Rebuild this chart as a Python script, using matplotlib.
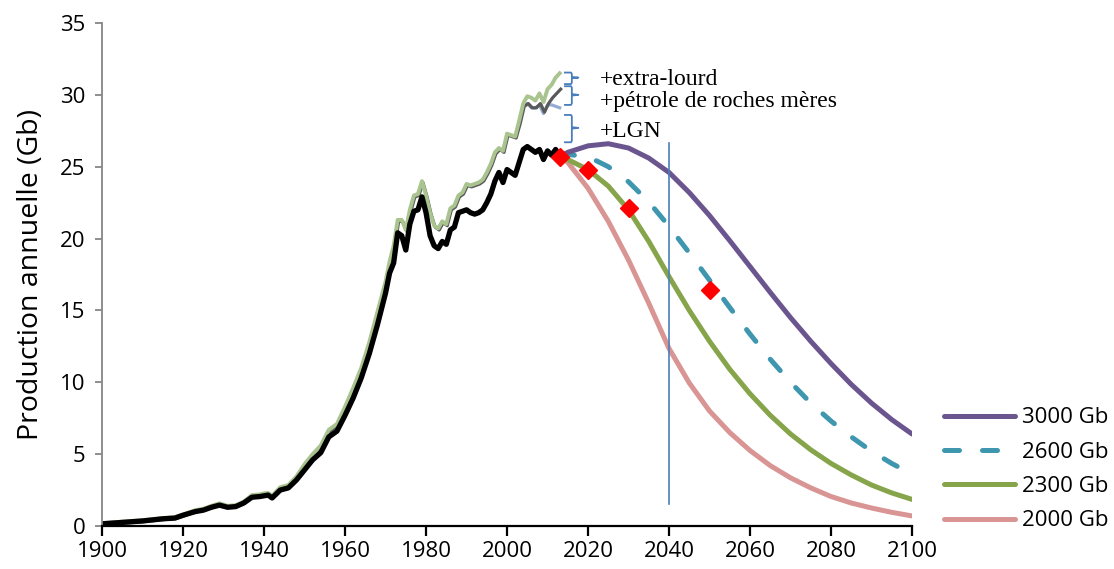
import numpy as np
import matplotlib
matplotlib.use("Agg")
import matplotlib.pyplot as plt
import matplotlib.transforms as mtransforms

# ---------------------------------------------------------------------
# Historique : production de brut (noir) et liquides totaux (vert clair)
hist_years = [1900, 1905, 1910, 1915, 1918, 1920, 1923, 1925, 1927, 1929,
              1931, 1933, 1935, 1937, 1939, 1940, 1941, 1942, 1944, 1946,
              1948, 1950, 1952, 1954, 1956, 1958, 1960, 1962, 1964, 1966,
              1968, 1970, 1971, 1972, 1973, 1974, 1975, 1976, 1977, 1978,
              1979, 1980, 1981, 1982, 1983, 1984, 1985, 1986, 1987, 1988,
              1989, 1990, 1991, 1992, 1993, 1994, 1995, 1996, 1997, 1998,
              1999, 2000, 2001, 2002, 2003, 2004, 2005, 2006, 2007, 2008,
              2009, 2010, 2011, 2012, 2013]
crude = [0.15, 0.25, 0.35, 0.5, 0.55, 0.75, 1.0, 1.1, 1.3, 1.45,
         1.3, 1.35, 1.6, 2.0, 2.05, 2.1, 2.15, 1.95, 2.5, 2.65,
         3.2, 3.9, 4.6, 5.1, 6.2, 6.6, 7.7, 8.9, 10.3, 12.0,
         14.0, 16.2, 17.6, 18.3, 20.4, 20.2, 19.2, 21.0, 21.9, 22.0,
         22.9, 21.8, 20.2, 19.5, 19.3, 19.8, 19.6, 20.6, 20.8, 21.8,
         21.9, 22.0, 21.8, 21.7, 21.8, 22.0, 22.5, 23.1, 24.0, 24.6,
         23.9, 24.8, 24.6, 24.4, 25.3, 26.2, 26.4, 26.2, 26.0, 26.2,
         25.5, 26.1, 25.8, 26.2, 25.7]
total = [0.2, 0.3, 0.4, 0.55, 0.62, 0.8, 1.1, 1.2, 1.4, 1.58,
         1.4, 1.45, 1.7, 2.15, 2.2, 2.27, 2.3, 2.1, 2.7, 2.85,
         3.45, 4.3, 5.0, 5.6, 6.7, 7.1, 8.3, 9.6, 11.0, 12.8,
         14.9, 17.0, 18.4, 19.5, 21.3, 21.3, 20.6, 22.0, 23.0, 23.1,
         24.0, 23.0, 21.8, 20.9, 20.7, 21.2, 21.0, 22.1, 22.3, 23.0,
         23.2, 23.8, 23.7, 23.8, 23.9, 24.1, 24.6, 25.2, 26.0, 26.3,
         26.1, 27.3, 27.2, 27.1, 28.2, 29.4, 29.9, 29.8, 29.6, 30.1,
         29.5, 30.4, 30.7, 31.2, 31.5]

# fin de série : brut + LGN (bleu clair) et + roches mères (gris)
tail_years = [2003, 2004, 2005, 2006, 2007, 2008, 2009, 2010, 2011, 2012, 2013]
with_ngl   = [28.1, 29.2, 29.4, 29.1, 29.1, 29.3, 28.7, 29.3, 29.3, 29.2, 29.1]
with_tight = [28.1, 29.3, 29.5, 29.2, 29.2, 29.5, 28.9, 29.5, 29.9, 30.2, 30.5]

# ---------------------------------------------------------------------
# Scénarios (URR)
fc_years = [2013, 2015, 2020, 2025, 2030, 2035, 2040, 2045, 2050, 2055,
            2060, 2065, 2070, 2075, 2080, 2085, 2090, 2095, 2100]
urr_3000 = [25.7, 26.0, 26.45, 26.6, 26.3, 25.6, 24.6, 23.2, 21.6, 19.85,
            18.05, 16.25, 14.5, 12.85, 11.3, 9.85, 8.55, 7.4, 6.4]
urr_2600 = [25.7, 25.85, 25.7, 25.0, 23.95, 22.55, 20.85, 19.0, 17.1, 15.2,
            13.35, 11.6, 10.0, 8.55, 7.3, 6.2, 5.2, 4.35, 3.6]
urr_2300 = [25.7, 25.5, 24.8, 23.65, 22.0, 19.8, 17.35, 15.0, 12.85, 10.9,
            9.2, 7.7, 6.4, 5.3, 4.35, 3.55, 2.85, 2.3, 1.85]
urr_2000 = [25.7, 25.3, 23.5, 21.2, 18.5, 15.5, 12.35, 9.95, 8.0, 6.5,
            5.25, 4.2, 3.35, 2.65, 2.05, 1.6, 1.25, 0.95, 0.7]

# points rouges
pt_years = [2013, 2020, 2030, 2050]
pt_values = [25.7, 24.8, 22.1, 16.4]

YEAR_MARK = 2040

BLUE = "#4a7ebb"
SANS = ["Open Sans", "DejaVu Sans"]
SERIF = ["Liberation Serif", "DejaVu Serif"]


def main() -> None:
    plt.rcParams["font.family"] = SANS
    fig = plt.figure(figsize=(11.14, 5.69), dpi=100)
    ax = fig.add_axes([0.0916, 0.0756, 0.7271, 0.884])

    # 1) historique
    grey_years = hist_years[:-len(tail_years)] + tail_years
    grey_vals = total[:-len(tail_years)] + with_tight
    shift = mtransforms.offset_copy(ax.transData, fig=fig, x=1.0, y=-1.5, units="dots")
    ax.plot(tail_years, with_ngl, color="#95abd4", lw=2.3, solid_joinstyle="round")
    ax.plot(grey_years, grey_vals, color="#595959", lw=2.3, transform=shift,
            solid_joinstyle="round")
    ax.plot(hist_years, total, color="#a9c48f", lw=2.8, solid_joinstyle="round")
    ax.plot(hist_years, crude, color="black", lw=3.8, solid_joinstyle="round")

    # 2) scénarios
    ax.plot(fc_years, urr_2000, color="#d99594", lw=3.6, label="2000 Gb",
            solid_capstyle="round")
    ax.plot(fc_years, urr_2300, color="#86a44a", lw=3.6, label="2300 Gb",
            solid_capstyle="round")
    ax.plot(fc_years, urr_2600, color="#3e97ae", lw=3.6, label="2600 Gb",
            dashes=(3.0, 4.6), dash_capstyle="round")
    ax.plot(fc_years, urr_3000, color="#6b558f", lw=3.6, label="3000 Gb",
            solid_capstyle="round")

    ax.plot(pt_years, pt_values, linestyle="none", marker="D", color="#ff0000",
            markersize=9, zorder=5)

    # 3) trait vertical 2040
    ax.plot([YEAR_MARK, YEAR_MARK], [1.5, 26.65], color=BLUE, lw=1.2)

    # 4) accolades et textes
    braces = [(31.55, 31.2, 30.75), (30.6, 30.0, 29.3), (28.6, 27.7, 26.7)]
    for top, mid, bot in braces:
        ax.plot([2014.3, 2015.8, 2016.0, 2016.0, 2017.6, 2016.0, 2016.0, 2015.8, 2014.3],
                [top, top, top - 0.1, mid + 0.05, mid, mid - 0.05, bot + 0.1, bot, bot],
                color=BLUE, lw=1.3, solid_joinstyle="round", clip_on=False)
    ax.text(2023, 30.7, "+extra-lourd", family=SERIF, fontsize=17, va="baseline")
    ax.text(2023, 29.18, "+pétrole de roches mères", family=SERIF, fontsize=17,
            va="baseline")
    ax.text(2023, 27.07, "+LGN", family=SERIF, fontsize=17, va="baseline")

    # 5) axes
    ax.set_xlim(1900, 2100)
    ax.set_ylim(0, 35)
    ax.set_xticks(range(1900, 2101, 20))
    ax.set_yticks(range(0, 36, 5))
    ax.spines["top"].set_visible(False)
    ax.spines["right"].set_visible(False)
    ax.spines["left"].set_color("#868686")
    ax.spines["left"].set_linewidth(1.3)
    ax.spines["bottom"].set_linewidth(1.6)
    ax.tick_params(axis="y", colors="#868686", labelcolor="black", length=5,
                   width=1.3, labelsize=16, pad=7)
    ax.tick_params(axis="x", length=7, width=1.6, labelsize=16, pad=4)
    ax.set_ylabel("Production annuelle (Gb)", fontsize=20.5, labelpad=11)

    handles, labels = ax.get_legend_handles_labels()
    fig.legend(handles[::-1], labels[::-1], loc="lower left",
               bbox_to_anchor=(0.8474, 0.066), frameon=False, fontsize=16,
               handlelength=3.2, handletextpad=0.3, labelspacing=0.6,
               borderpad=0, borderaxespad=0)

    fig.savefig("out.png", dpi=100)


if __name__ == "__main__":
    main()
